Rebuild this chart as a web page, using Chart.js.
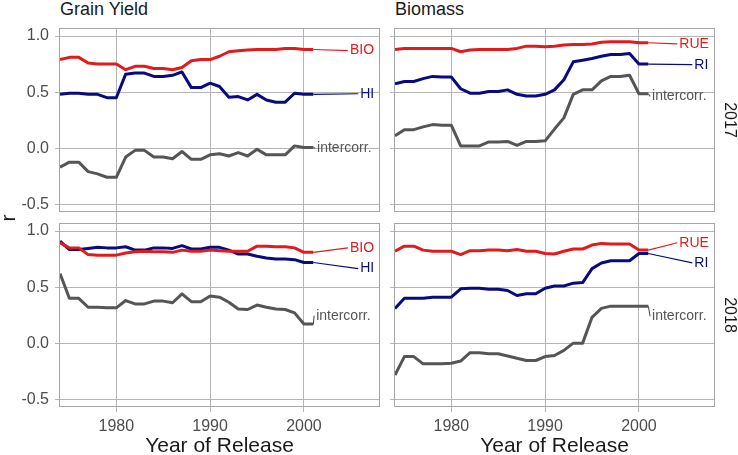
<!DOCTYPE html>
<html>
<head>
<meta charset="utf-8">
<script src="https://cdn.jsdelivr.net/npm/chart.js@4.4.1/dist/chart.umd.min.js"></script>
<style>
  body { margin: 0; background: #fff; }
  #wrap { position: relative; width: 738px; height: 455px; overflow: hidden; font-family: "Liberation Sans", Arial, sans-serif; }
  #wrap canvas { position: absolute; }
  .txt { position: absolute; white-space: nowrap; color: #1a1a1a; }
</style>
</head>
<body>
<div id="wrap">
  <canvas id="gy17" width="381" height="197" style="left:0;top:26px"></canvas>
  <canvas id="bm17" width="350" height="197" style="left:388px;top:26px"></canvas>
  <canvas id="gy18" width="381" height="234" style="left:0;top:221px"></canvas>
  <canvas id="bm18" width="350" height="234" style="left:388px;top:221px"></canvas>

  <div class="txt" style="left:60px;top:0;font-size:18px;line-height:18px">Grain Yield</div>
  <div class="txt" style="left:395px;top:0;font-size:18px;line-height:18px">Biomass</div>
  <div class="txt" style="left:700px;top:110px;width:60px;height:20px;line-height:20px;text-align:center;font-size:16px;transform:rotate(90deg)">2017</div>
  <div class="txt" style="left:700px;top:305px;width:60px;height:20px;line-height:20px;text-align:center;font-size:16px;transform:rotate(90deg)">2018</div>
  <div class="txt" style="left:-7px;top:206px;width:30px;height:24px;line-height:24px;text-align:center;font-size:21px;transform:rotate(-90deg)">r</div>
</div>
<script>
const years = [1974, 1975, 1976, 1977, 1978, 1979, 1980, 1981, 1982, 1983, 1984, 1985, 1986, 1987,
  1988, 1989, 1990, 1991, 1992, 1993, 1994, 1995, 1996, 1997, 1998, 1999, 2000, 2001];

// Grain yield, 2017
const gyBio17 = [0.79, 0.81, 0.81, 0.76, 0.75, 0.75, 0.75, 0.70, 0.73, 0.73, 0.71, 0.71, 0.70, 0.72,
  0.78, 0.79, 0.79, 0.82, 0.86, 0.87, 0.875, 0.88, 0.88, 0.88, 0.89, 0.89, 0.88, 0.88];
const gyHi17 = [0.48, 0.49, 0.49, 0.48, 0.48, 0.45, 0.45, 0.66, 0.67, 0.67, 0.64, 0.64, 0.65, 0.68,
  0.54, 0.54, 0.58, 0.55, 0.455, 0.46, 0.43, 0.48, 0.43, 0.41, 0.41, 0.49, 0.48, 0.48];
const gyInt17 = [-0.17, -0.125, -0.125, -0.21, -0.23, -0.26, -0.26, -0.08, -0.02, -0.02, -0.08, -0.08, -0.095, -0.03,
  -0.10, -0.10, -0.06, -0.05, -0.07, -0.04, -0.07, -0.01, -0.06, -0.06, -0.06, 0.02, 0.005, 0.005];

// Biomass, 2017
const bmRue17 = [0.88, 0.89, 0.89, 0.89, 0.89, 0.89, 0.89, 0.86, 0.875, 0.88, 0.88, 0.88, 0.88, 0.89,
  0.91, 0.91, 0.905, 0.91, 0.92, 0.925, 0.925, 0.93, 0.945, 0.95, 0.95, 0.95, 0.94, 0.94];
const bmRi17 = [0.575, 0.595, 0.595, 0.62, 0.64, 0.635, 0.635, 0.53, 0.49, 0.49, 0.505, 0.505, 0.52, 0.48,
  0.465, 0.465, 0.48, 0.52, 0.61, 0.77, 0.785, 0.80, 0.82, 0.835, 0.835, 0.845, 0.75, 0.75];
const bmInt17 = [0.11, 0.165, 0.165, 0.19, 0.21, 0.205, 0.205, 0.02, 0.02, 0.02, 0.055, 0.055, 0.06, 0.025,
  0.06, 0.06, 0.065, 0.17, 0.27, 0.48, 0.52, 0.52, 0.60, 0.64, 0.64, 0.65, 0.485, 0.485];

// Grain yield, 2018
const gyBio18 = [0.895, 0.85, 0.85, 0.79, 0.785, 0.785, 0.785, 0.805, 0.815, 0.82, 0.815, 0.815, 0.81, 0.83,
  0.82, 0.82, 0.83, 0.825, 0.82, 0.82, 0.82, 0.865, 0.865, 0.86, 0.86, 0.85, 0.81, 0.81];
const gyHi18 = [0.91, 0.835, 0.835, 0.845, 0.855, 0.85, 0.85, 0.86, 0.83, 0.83, 0.85, 0.85, 0.845, 0.87,
  0.84, 0.84, 0.855, 0.855, 0.83, 0.795, 0.795, 0.775, 0.76, 0.75, 0.75, 0.745, 0.72, 0.72];
const gyInt18 = [0.62, 0.40, 0.40, 0.32, 0.32, 0.315, 0.315, 0.38, 0.35, 0.35, 0.375, 0.375, 0.36, 0.44,
  0.37, 0.37, 0.42, 0.41, 0.365, 0.305, 0.30, 0.34, 0.32, 0.305, 0.30, 0.27, 0.17, 0.17];

// Biomass, 2018
const bmRue18 = [0.82, 0.865, 0.865, 0.83, 0.82, 0.82, 0.82, 0.79, 0.825, 0.825, 0.83, 0.83, 0.825, 0.835,
  0.82, 0.82, 0.80, 0.795, 0.82, 0.84, 0.84, 0.875, 0.89, 0.885, 0.885, 0.885, 0.83, 0.83];
const bmRi18 = [0.31, 0.40, 0.40, 0.40, 0.41, 0.41, 0.41, 0.485, 0.49, 0.49, 0.48, 0.48, 0.47, 0.425,
  0.44, 0.44, 0.49, 0.51, 0.51, 0.535, 0.54, 0.665, 0.715, 0.735, 0.735, 0.735, 0.80, 0.80];
const bmInt18 = [-0.285, -0.12, -0.12, -0.185, -0.185, -0.185, -0.18, -0.16, -0.085, -0.085, -0.095, -0.095, -0.115, -0.135,
  -0.155, -0.155, -0.12, -0.11, -0.065, 0.0, 0.0, 0.23, 0.31, 0.33, 0.33, 0.33, 0.33, 0.33];

const gyNames = ['BIO', 'HI', 'intercorr.'];
const bmNames = ['RUE', 'RI', 'intercorr.'];

// where each line label sits, in [year, r]
const gyLabels17 = [[2004.9, 0.87], [2006.0, 0.485], [2001.4, 0.0]];
const bmLabels17 = [[2004.3, 0.93], [2005.9, 0.745], [2001.4, 0.46]];
const gyLabels18 = [[2004.9, 0.85], [2006.0, 0.665], [2001.3, 0.245]];
const bmLabels18 = [[2004.3, 0.895], [2005.9, 0.716], [2001.4, 0.24]];

const xTicks = [1980, 1990, 2000];
const yTicks = [-0.5, 0, 0.5, 1.0];

const colors = ['#e31a1c', '#0a0a80', '#555555'];
const FONT = '"Liberation Sans", Arial, sans-serif';
const GRID = '#b5b5b5';

// panel frame + repel-style labels at the line ends
const panelPlugin = {
  id: 'panelPlugin',
  beforeDatasetsDraw(chart) {
    const a = chart.chartArea;
    const ctx = chart.ctx;
    ctx.save();
    ctx.strokeStyle = '#a6a6a6';
    ctx.lineWidth = 1;
    ctx.strokeRect(Math.round(a.left) - 0.5, Math.round(a.top) + 0.5, Math.round(a.right - a.left) + 1, Math.round(a.bottom - a.top) - 1);
    ctx.restore();
  },
  afterDatasetsDraw(chart) {
    const ctx = chart.ctx;
    const xs = chart.scales.x, ys = chart.scales.y;
    ctx.save();
    ctx.font = '14px ' + FONT;
    ctx.textBaseline = 'middle';
    ctx.textAlign = 'left';
    chart.data.datasets.forEach((ds, i) => {
      const pts = chart.getDatasetMeta(i).data;
      const last = pts[pts.length - 1];
      const lx = xs.getPixelForValue(ds.labelAt[0]);
      const ly = ys.getPixelForValue(ds.labelAt[1]);
      ctx.strokeStyle = ds.borderColor;
      ctx.lineWidth = 1.1;
      ctx.beginPath();
      ctx.moveTo(last.x, last.y);
      ctx.lineTo(lx - 2, ly);
      ctx.stroke();
      ctx.fillStyle = ds.borderColor;
      ctx.fillText(ds.label, lx, ly);
    });
    ctx.restore();
  }
};

function makePanel(id, series, names, labels, isLeft, isBottom) {
  const ctx = document.getElementById(id).getContext('2d');
  const datasets = series.map((vals, i) => ({
    label: names[i],
    data: years.map((yr, k) => ({ x: yr, y: vals[k] })),
    borderColor: colors[i],
    borderWidth: 3,
    pointRadius: 0,
    tension: 0,
    borderJoinStyle: 'round',
    fill: false,
    labelAt: labels[i]
  }));

  return new Chart(ctx, {
    type: 'line',
    data: { datasets },
    plugins: [panelPlugin],
    options: {
      responsive: false,
      animation: false,
      layout: { padding: { top: 2, right: isLeft ? 2 : 24, left: 0, bottom: 0 } },
      plugins: { legend: { display: false }, tooltip: { enabled: false } },
      scales: {
        x: {
          type: 'linear',
          min: 1974,
          max: 2008,
          border: { display: false },
          grid: { color: GRID, lineWidth: 1, drawTicks: true, tickLength: isBottom ? 5 : 11, tickColor: GRID },
          ticks: {
            display: isBottom,
            padding: 5,
            color: '#4d4d4d',
            font: { family: FONT, size: 16 },
            maxRotation: 0,
            callback: (v) => String(v)
          },
          title: {
            display: isBottom,
            text: 'Year of Release',
            color: '#1a1a1a',
            font: { family: FONT, size: 21, lineHeight: 0.85 },
            padding: { top: 0, bottom: 0 }
          },
          afterBuildTicks: (s) => { s.ticks = xTicks.map(v => ({ value: v })); },
          afterFit: (s) => {
            s.height = isBottom ? 48 : 11;
            s.paddingLeft = 0; s.paddingRight = 0;
          }
        },
        y: {
          min: -0.57,
          max: 1.072,
          border: { display: false },
          grid: { color: GRID, lineWidth: 1, drawTicks: true, tickLength: 5, tickColor: GRID },
          ticks: {
            display: isLeft,
            padding: 6,
            color: '#4d4d4d',
            font: { family: FONT, size: 16 },
            callback: (v) => v.toFixed(1)
          },
          afterBuildTicks: (s) => { s.ticks = yTicks.map(v => ({ value: v })); },
          afterFit: (s) => {
            s.width = isLeft ? 60 : 7;
            s.paddingTop = 0; s.paddingBottom = 0;
          }
        }
      }
    }
  });
}

makePanel('gy17', [gyBio17, gyHi17, gyInt17], gyNames, gyLabels17, true, false);
makePanel('bm17', [bmRue17, bmRi17, bmInt17], bmNames, bmLabels17, false, false);
makePanel('gy18', [gyBio18, gyHi18, gyInt18], gyNames, gyLabels18, true, true);
makePanel('bm18', [bmRue18, bmRi18, bmInt18], bmNames, bmLabels18, false, true);
</script>
</body>
</html>
